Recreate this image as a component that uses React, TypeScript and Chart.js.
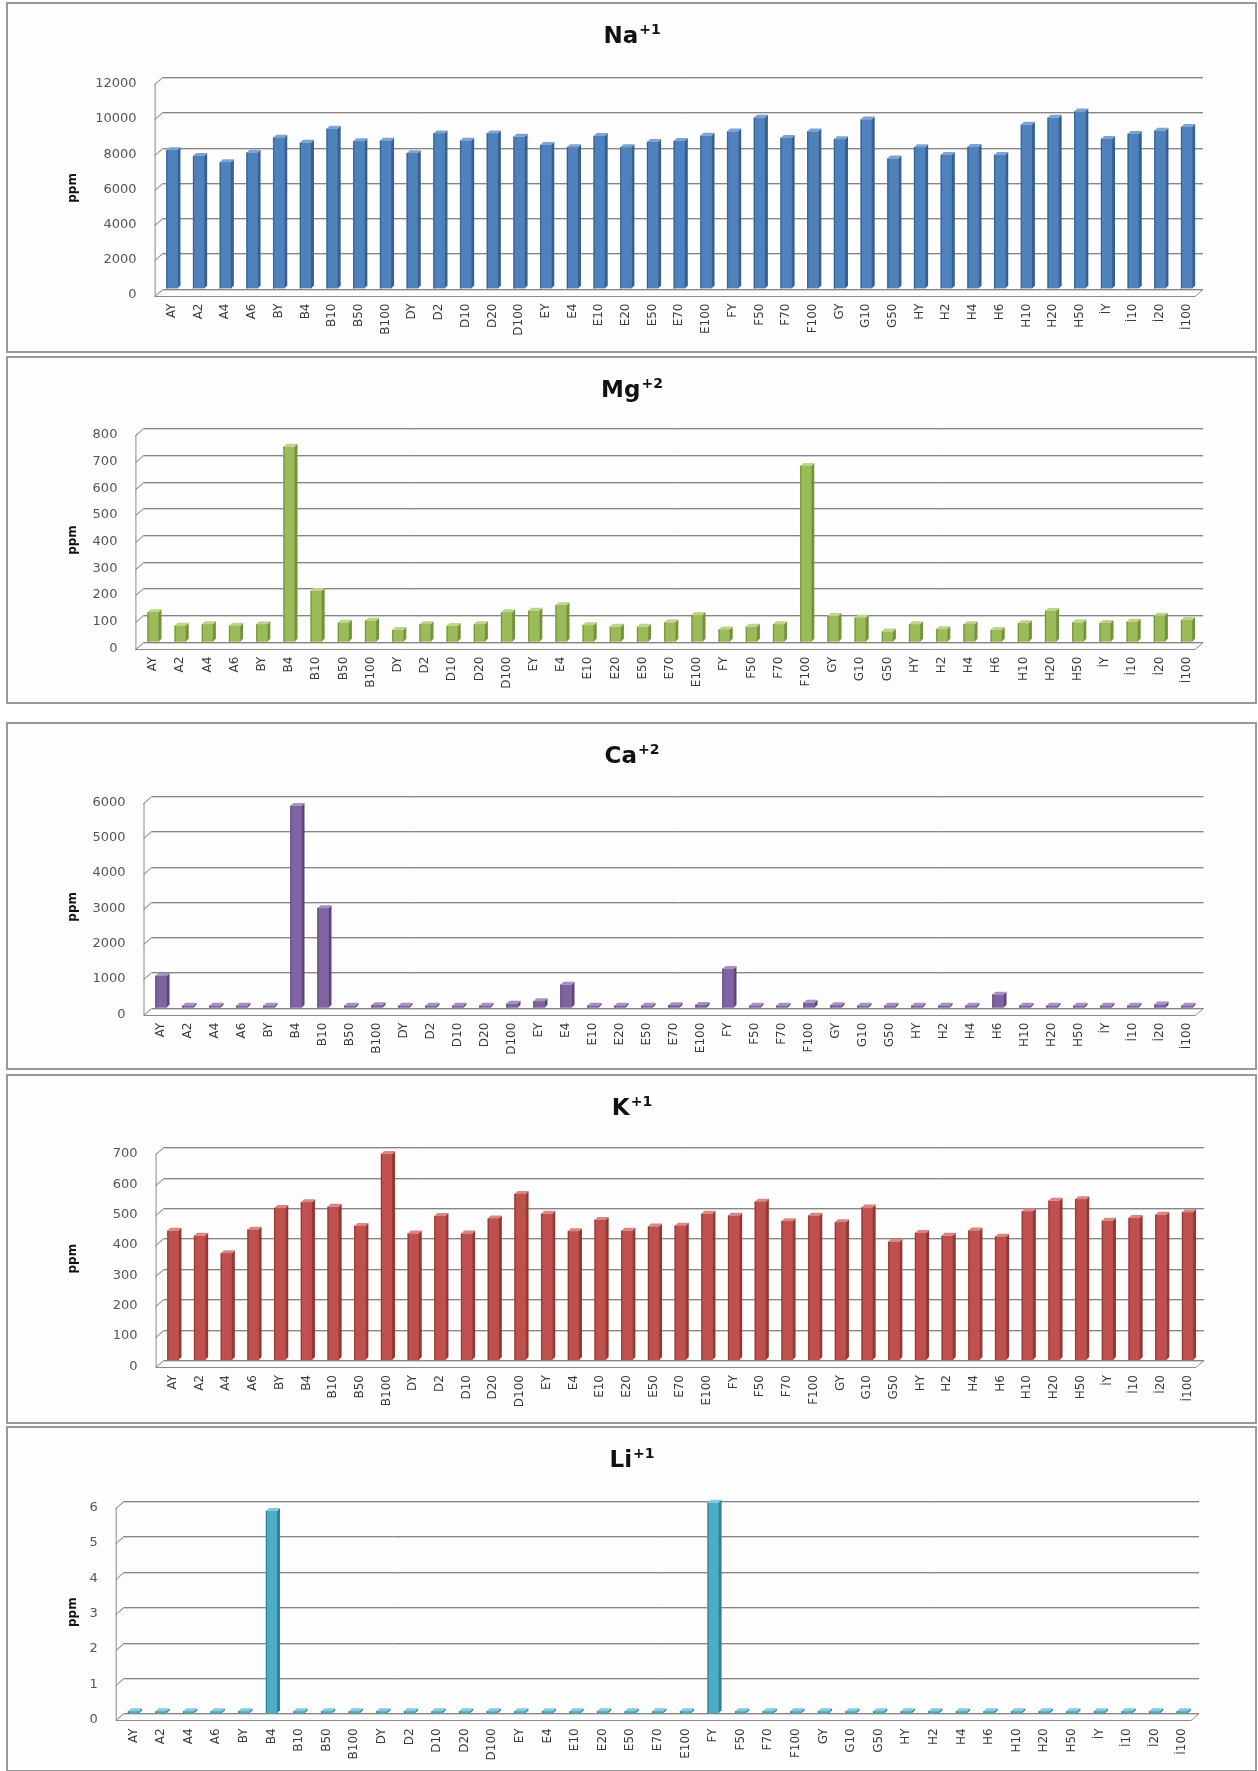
import { useEffect, useRef } from 'react';
import { Chart, registerables } from 'chart.js';

Chart.register(...registerables);

// Sample codes along the category axis (shared by all five ion charts)
const categories = [
  'AY', 'A2', 'A4', 'A6', 'BY', 'B4', 'B10', 'B50', 'B100', 'DY', 'D2', 'D10', 'D20', 'D100',
  'EY', 'E4', 'E10', 'E20', 'E50', 'E70', 'E100', 'FY', 'F50', 'F70', 'F100', 'GY', 'G10', 'G50',
  'HY', 'H2', 'H4', 'H6', 'H10', 'H20', 'H50', 'İY', 'İ10', 'İ20', 'İ100',
];

// Concentrations in ppm
const naValues = [
  7850, 7530, 7170, 7720, 8570, 8280, 9070, 8360, 8400, 7680, 8810, 8400, 8810, 8620,
  8150, 8020, 8660, 8020, 8320, 8380, 8680, 8920, 9700, 8550, 8920, 8480, 9600, 7380,
  8020, 7580, 8040, 7580, 9300, 9700, 10050, 8490, 8780, 8960, 9170,
];
const mgValues = [
  110, 60, 65, 60, 65, 731, 190, 71, 79, 44, 65, 59, 65, 110,
  116, 137, 62, 56, 56, 72, 100, 46, 56, 65, 659, 96, 90, 38,
  65, 47, 65, 44, 69, 115, 72, 70, 75, 97, 81,
];
const caValues = [
  900, 40, 40, 30, 40, 5720, 2820, 40, 70, 30, 15, 40, 50, 110,
  180, 650, 40, 40, 40, 70, 80, 1100, 40, 40, 140, 70, 40, 10,
  40, 40, 40, 370, 40, 40, 40, 40, 40, 90, 40,
];
const kValues = [
  425, 409, 351, 429, 500, 519, 504, 441, 678, 416, 474, 416, 466, 546,
  481, 424, 461, 425, 439, 442, 481, 475, 521, 457, 475, 453, 502, 389,
  418, 409, 426, 406, 489, 524, 529, 458, 467, 478, 486,
];
const liValues = [
  0, 0, 0, 0, 0, 5.72, 0, 0, 0, 0, 0, 0, 0, 0,
  0, 0, 0, 0, 0, 0, 0, 5.95, 0, 0, 0, 0, 0, 0,
  0, 0, 0, 0, 0, 0, 0, 0, 0, 0, 0,
];

// Axis limits for each ion
const naAxis = { max: 12000, step: 2000 };
const mgAxis = { max: 800, step: 100 };
const caAxis = { max: 6000, step: 1000 };
const kAxis = { max: 700, step: 100 };
const liAxis = { max: 6, step: 1 };

const PAGE_W = 1258;
const FONT = '"DejaVu Sans", sans-serif';

type PanelSpec = {
  ion: string;
  charge: string;
  values: number[];
  axis: { max: number; step: number };
  front: string;
  side: string;
  cap: string;
  minBar: number;
  top: number; // panel top on the page
  height: number;
  plotTop: number; // relative to panel top
  plotBottom: number;
  plotLeft: number;
  plotRight: number;
};

const panels: PanelSpec[] = [
  {
    ion: 'Na', charge: '+1', values: naValues, axis: naAxis,
    front: '#4f81bd', side: '#36608f', cap: '#7ea3d2', minBar: 0,
    top: 3, height: 349, plotTop: 74.3, plotBottom: 285.5, plotLeft: 158.6, plotRight: 1200,
  },
  {
    ion: 'Mg', charge: '+2', values: mgValues, axis: mgAxis,
    front: '#9bbb59', side: '#74923c', cap: '#bdd48c', minBar: 0,
    top: 357, height: 346, plotTop: 71.3, plotBottom: 284.7, plotLeft: 139.4, plotRight: 1200.2,
  },
  {
    ion: 'Ca', charge: '+2', values: caValues, axis: caAxis,
    front: '#8064a2', side: '#5c4679', cap: '#a691c2', minBar: 2,
    top: 723, height: 346, plotTop: 73, plotBottom: 284.7, plotLeft: 147.5, plotRight: 1200.5,
  },
  {
    ion: 'K', charge: '+1', values: kValues, axis: kAxis,
    front: '#c0504d', side: '#913935', cap: '#d98784', minBar: 0,
    top: 1075, height: 348, plotTop: 72.3, plotBottom: 285, plotLeft: 159.6, plotRight: 1200.9,
  },
  {
    ion: 'Li', charge: '+1', values: liValues, axis: liAxis,
    front: '#4bacc6', side: '#2f8199', cap: '#86cadb', minBar: 2,
    top: 1427, height: 344, plotTop: 74, plotBottom: 286.3, plotLeft: 119.7, plotRight: 1196.1,
  },
];

// Draws the pseudo-3D wall, floor, bar side faces, the ion title and the axis title
function decorPlugin(p: PanelSpec) {
  const DX = 8;
  const DY = 7;
  const D = 3;
  return {
    id: 'decor3d',
    beforeDatasetsDraw(chart: any) {
      const { ctx, chartArea: a, scales } = chart;
      const ys = scales.y;
      const lb = a.left + 4;
      const lf = lb - DX;
      const r = a.right + 3;
      ctx.save();
      ctx.lineWidth = 1;
      for (const t of ys.ticks) {
        const y = Math.round(ys.getPixelForValue(t.value)) + 0.5;
        ctx.strokeStyle = '#d2d2d2';
        ctx.beginPath();
        ctx.moveTo(lf, y + DY + 1);
        ctx.lineTo(lb, y + 1);
        ctx.lineTo(r, y + 1);
        ctx.stroke();
        ctx.strokeStyle = '#858585';
        ctx.beginPath();
        ctx.moveTo(lf, y + DY);
        ctx.lineTo(lb, y);
        ctx.lineTo(r, y);
        ctx.stroke();
      }
      const yb = Math.round(a.bottom) + 0.5;
      ctx.strokeStyle = '#8a8a8a';
      ctx.beginPath();
      ctx.moveTo(lf + 0.5, Math.round(a.top) + DY);
      ctx.lineTo(lf + 0.5, yb + DY);
      ctx.lineTo(r - DX, yb + DY);
      ctx.lineTo(r, yb);
      ctx.stroke();
      ctx.restore();
    },
    afterDatasetsDraw(chart: any) {
      const { ctx } = chart;
      const meta = chart.getDatasetMeta(0);
      ctx.save();
      for (const el of meta.data) {
        const { x, y, base, width } = el.getProps(['x', 'y', 'base', 'width'], true);
        const l = x - width / 2;
        const rr = x + width / 2;
        ctx.fillStyle = p.side;
        ctx.beginPath();
        ctx.moveTo(rr, y);
        ctx.lineTo(rr + D, y - D);
        ctx.lineTo(rr + D, base - D);
        ctx.lineTo(rr, base);
        ctx.closePath();
        ctx.fill();
        ctx.fillStyle = p.cap;
        ctx.beginPath();
        ctx.moveTo(l, y);
        ctx.lineTo(l + D, y - D);
        ctx.lineTo(rr + D, y - D);
        ctx.lineTo(rr, y);
        ctx.closePath();
        ctx.fill();
        ctx.strokeStyle = p.side;
        ctx.lineWidth = 1;
        ctx.beginPath();
        ctx.moveTo(l + 0.5, base);
        ctx.lineTo(l + 0.5, y);
        ctx.stroke();
      }
      ctx.restore();
    },
    afterDraw(chart: any) {
      const { ctx, chartArea: a } = chart;
      ctx.save();
      // title with superscript charge
      const mainFont = `bold 23px ${FONT}`;
      const supFont = `bold 14px ${FONT}`;
      ctx.font = mainFont;
      const wMain = ctx.measureText(p.ion).width;
      ctx.font = supFont;
      const wSup = ctx.measureText(p.charge).width;
      const x0 = 632 - (wMain + 1 + wSup) / 2;
      ctx.fillStyle = '#111';
      ctx.textBaseline = 'alphabetic';
      ctx.textAlign = 'left';
      ctx.font = mainFont;
      ctx.fillText(p.ion, x0, 40);
      ctx.font = supFont;
      ctx.fillText(p.charge, x0 + wMain + 1, 31);
      // axis title
      ctx.translate(73, (a.top + a.bottom) / 2 + 5);
      ctx.rotate(-Math.PI / 2);
      ctx.font = `bold 12px ${FONT}`;
      ctx.textAlign = 'center';
      ctx.textBaseline = 'middle';
      ctx.fillText('ppm', 0, 0);
      ctx.restore();
    },
  };
}

function IonChart({ p }: { p: PanelSpec }) {
  const ref = useRef<HTMLCanvasElement | null>(null);
  useEffect(() => {
    if (!ref.current) return;
    const chart = new Chart(ref.current, {
      type: 'bar',
      data: {
        labels: categories,
        datasets: [
          {
            data: p.values,
            backgroundColor: p.front,
            borderWidth: 0,
            barThickness: 11,
            minBarLength: p.minBar,
          },
        ],
      },
      options: {
        animation: false,
        responsive: false,
        events: [],
        layout: {
          padding: { top: p.plotTop, right: PAGE_W - p.plotRight, left: 0, bottom: 0 },
        },
        plugins: {
          legend: { display: false },
          tooltip: { enabled: false },
          title: { display: false },
        },
        scales: {
          x: {
            offset: true,
            grid: { display: false, drawTicks: false },
            border: { display: false },
            ticks: {
              autoSkip: false,
              minRotation: 90,
              maxRotation: 90,
              padding: 15,
              color: '#3a3a3a',
              font: { family: FONT, size: 12 },
            },
            afterFit: (s: any) => {
              s.height = p.height - p.plotBottom;
            },
          },
          y: {
            min: 0,
            max: p.axis.max,
            grid: { display: false, drawTicks: false },
            border: { display: false },
            ticks: {
              stepSize: p.axis.step,
              padding: 22,
              labelOffset: 6.5,
              color: '#555',
              font: { family: FONT, size: 13 },
              callback: (v: any) => String(v),
            },
            afterFit: (s: any) => {
              s.width = p.plotLeft;
            },
          },
        },
      },
      plugins: [decorPlugin(p)],
    });
    return () => chart.destroy();
  }, [p]);

  return (
    <>
      <div
        style={{
          position: 'absolute',
          left: 6,
          top: p.top - 1,
          width: 1251,
          height: p.height + 2,
          boxSizing: 'border-box',
          border: '2px solid #999',
          background: '#fdfdfd',
        }}
      />
      <canvas
        ref={ref}
        width={PAGE_W}
        height={p.height}
        style={{ position: 'absolute', left: 0, top: p.top, display: 'block' }}
      />
    </>
  );
}

export default function App() {
  return (
    <div
      style={{
        position: 'absolute',
        left: 0,
        top: 0,
        width: PAGE_W,
        height: 1771,
        overflow: 'hidden',
        background: '#fff',
        fontFamily: FONT,
      }}
    >
      {panels.map((p) => (
        <IonChart key={p.ion} p={p} />
      ))}
    </div>
  );
}
